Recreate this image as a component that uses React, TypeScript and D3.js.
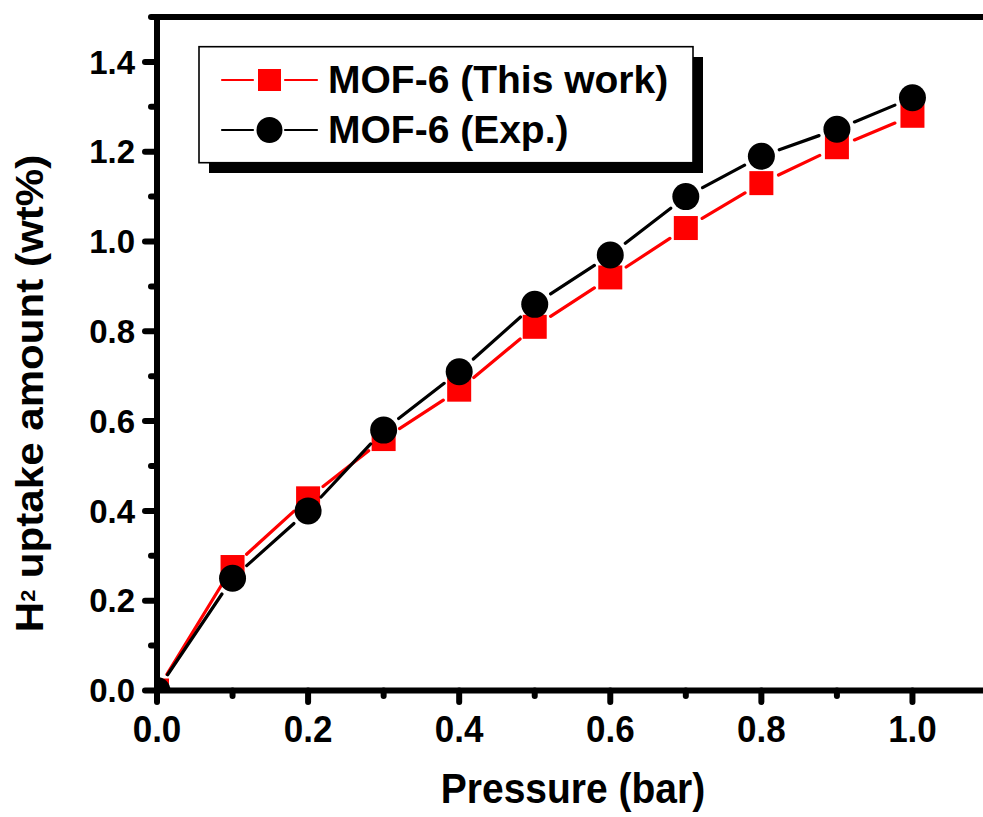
import * as d3 from "d3";

const pressure = [0, 0.1, 0.2, 0.3, 0.4, 0.5, 0.6, 0.7, 0.8, 0.9, 1.0];
const thisWork = [0, 0.275, 0.428, 0.56, 0.67, 0.81, 0.92, 1.03, 1.13, 1.21, 1.28];
const expData = [0, 0.25, 0.40, 0.58, 0.71, 0.86, 0.97, 1.10, 1.19, 1.25, 1.32];

const xMajor = [0, 0.2, 0.4, 0.6, 0.8, 1.0];
const xMinor = [0.1, 0.3, 0.5, 0.7, 0.9, 1.1];
const yMajor = [0, 0.2, 0.4, 0.6, 0.8, 1.0, 1.2, 1.4];
const yMinor = [0.1, 0.3, 0.5, 0.7, 0.9, 1.1, 1.3, 1.5];

const seriesNames = ["MOF-6 (This work)", "MOF-6 (Exp.)"];

const width = 983, height = 817;
const font = "'Liberation Sans', Arial, sans-serif";

const x = d3.scaleLinear().domain([0, 1.1]).range([157, 988]);
const y = d3.scaleLinear().domain([0, 1.5]).range([690.5, 17]);

// Origin-style line: segments stop short of each symbol
function gappedPath(ys: number[], gap: number) {
    const pts = pressure.map((p, i) => [x(p), y(ys[i])]);
    let d = "";
    for (let i = 0; i < pts.length - 1; i++) {
        const [x1, y1] = pts[i], [x2, y2] = pts[i + 1];
        const len = Math.hypot(x2 - x1, y2 - y1);
        if (len <= gap * 2) continue;
        const ux = (x2 - x1) / len, uy = (y2 - y1) / len;
        d += `M${x1 + ux * gap},${y1 + uy * gap}L${x2 - ux * gap},${y2 - uy * gap}`;
    }
    return d;
}

export default function App() {
    const sq = 24, cr = 13.5;
    const fmt = d3.format(".1f");
    return (
        <svg width={width} height={height} style={{ position: "absolute", left: 0, top: 0, background: "#fff" }}
            fontFamily={font} fontWeight="bold">
            <defs>
                <clipPath id="plot">
                    <rect x={x(0)} y={y(1.5)} width={x(1.1) - x(0)} height={y(0) - y(1.5)} />
                </clipPath>
            </defs>

            <g clipPath="url(#plot)">
                <path d={gappedPath(thisWork, 19)} stroke="#ff0000" strokeWidth={3.2} fill="none" strokeLinecap="round" />
                {pressure.map((p, i) => (
                    <rect key={"s" + i} x={x(p) - sq / 2} y={y(thisWork[i]) - sq / 2} width={sq} height={sq} fill="#ff0000" />
                ))}
                <path d={gappedPath(expData, 19)} stroke="#000" strokeWidth={3.2} fill="none" strokeLinecap="round" />
                {pressure.map((p, i) => (
                    <circle key={"c" + i} cx={x(p)} cy={y(expData[i])} r={cr} fill="#000" />
                ))}
            </g>

            {/* frame and axes */}
            <line x1={x(0)} x2={x(0)} y1={y(0)} y2={y(1.5)} stroke="#000" strokeWidth={6} />
            <line x1={x(0)} x2={x(1.1)} y1={y(0)} y2={y(0)} stroke="#000" strokeWidth={6} />
            <line x1={x(0)} x2={x(1.1) + 10} y1={y(1.5)} y2={y(1.5)} stroke="#000" strokeWidth={6} />

            {yMajor.map(v => (
                <g key={"ym" + v}>
                    <line x1={x(0)} x2={x(0) - 12} y1={y(v)} y2={y(v)} stroke="#000" strokeWidth={6} strokeLinecap="round" />
                    <text x={135} y={y(v) + 11.6} textAnchor="end" fontSize={33}>{fmt(v)}</text>
                </g>
            ))}
            {yMinor.map(v => (
                <line key={"yn" + v} x1={x(0)} x2={x(0) - 6} y1={y(v)} y2={y(v)} stroke="#000" strokeWidth={6} strokeLinecap="round" />
            ))}
            {xMajor.map(v => (
                <g key={"xm" + v}>
                    <line x1={x(v)} x2={x(v)} y1={y(0)} y2={y(0) + 11.5} stroke="#000" strokeWidth={6} strokeLinecap="round" />
                    <text transform={`translate(${x(v)},741.7) scale(1,1.07)`} textAnchor="middle" fontSize={35}>{fmt(v)}</text>
                </g>
            ))}
            {xMinor.map(v => (
                <line key={"xn" + v} x1={x(v)} x2={x(v)} y1={y(0)} y2={y(0) + 5.5} stroke="#000" strokeWidth={6} strokeLinecap="round" />
            ))}

            {/* axis titles */}
            <text transform="translate(573,803.3) scale(1,1.1)" textAnchor="middle" fontSize={39}>Pressure (bar)</text>
            <text transform="translate(43,393.5) rotate(-90) scale(1.08,1)" textAnchor="middle" fontSize={39}>
                H<tspan fontSize={20} dy={-8}>2</tspan><tspan dy={8}> uptake amount (wt%)</tspan>
            </text>

            {/* legend */}
            <rect x={209} y={57} width={494} height={116} fill="#000" />
            <rect x={199} y={46.7} width={494} height={116} fill="#fff" stroke="#000" strokeWidth={1.6} />
            <line x1={222} x2={253} y1={80} y2={80} stroke="#ff0000" strokeWidth={2.2} strokeLinecap="round" />
            <line x1={285} x2={317} y1={80} y2={80} stroke="#ff0000" strokeWidth={2.2} strokeLinecap="round" />
            <rect x={258} y={69} width={23} height={22} fill="#ff0000" />
            <line x1={222} x2={253} y1={130} y2={130} stroke="#000" strokeWidth={2.2} strokeLinecap="round" />
            <line x1={285} x2={317} y1={130} y2={130} stroke="#000" strokeWidth={2.2} strokeLinecap="round" />
            <circle cx={269.5} cy={130} r={13} fill="#000" />
            <text x={328} y={93.3} fontSize={39}>{seriesNames[0]}</text>
            <text x={328} y={143.3} fontSize={39}>{seriesNames[1]}</text>
        </svg>
    );
}
